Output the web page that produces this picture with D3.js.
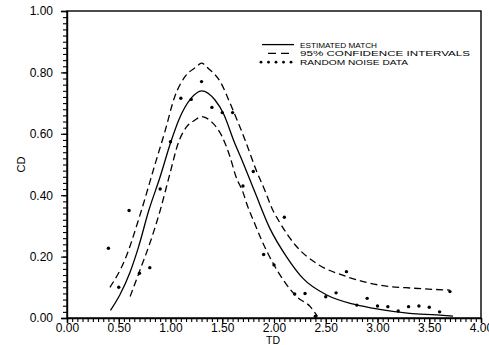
<!DOCTYPE html>
<html>
<head>
<meta charset="utf-8">
<script src="https://cdn.jsdelivr.net/npm/d3@7"></script>
<style>
  html, body { margin: 0; padding: 0; background: #fff; }
  svg { display: block; font-family: "Liberation Sans", Arial, sans-serif; }
</style>
</head>
<body>
<svg id="chart" width="489" height="345"></svg>
<script>
// ---- data ----
const xTicks = [0, 0.5, 1, 1.5, 2, 2.5, 3, 3.5, 4];
const yTicks = [0, 0.2, 0.4, 0.6, 0.8, 1.0];

const matchX = [0.42, 0.51, 0.61, 0.69, 0.79, 0.90, 1.00, 1.08, 1.20, 1.30, 1.43, 1.51, 1.62, 1.69, 1.82, 1.96, 2.12, 2.28, 2.51, 2.77, 3.02, 3.31, 3.57, 3.73];
const matchY = [0.025, 0.075, 0.15, 0.23, 0.35, 0.46, 0.57, 0.645, 0.716, 0.740, 0.71, 0.667, 0.57, 0.515, 0.406, 0.292, 0.20, 0.129, 0.075, 0.045, 0.028, 0.015, 0.010, 0.006];

const upperX = [0.415, 0.56, 0.705, 0.85, 0.95, 1.04, 1.14, 1.25, 1.30, 1.365, 1.48, 1.59, 1.72, 1.83, 1.91, 1.99, 2.04, 2.22, 2.41, 2.70, 3.02, 3.35, 3.70];
const upperY = [0.10, 0.19, 0.335, 0.50, 0.612, 0.72, 0.786, 0.818, 0.83, 0.813, 0.77, 0.688, 0.58, 0.48, 0.417, 0.35, 0.32, 0.232, 0.178, 0.135, 0.107, 0.097, 0.091];

const lowerX = [0.61, 0.705, 0.80, 0.90, 0.995, 1.075, 1.157, 1.237, 1.30, 1.40, 1.50, 1.575, 1.633, 1.70, 1.744, 1.807, 1.884, 1.99, 2.09, 2.22, 2.35, 2.42];
const lowerY = [0.07, 0.156, 0.243, 0.35, 0.471, 0.57, 0.623, 0.645, 0.656, 0.638, 0.59, 0.525, 0.46, 0.41, 0.365, 0.313, 0.251, 0.179, 0.124, 0.069, 0.037, 0.005];

const noiseX = [0.4, 0.5, 0.6, 0.7, 0.8, 0.9, 1.0, 1.1, 1.2, 1.3, 1.4, 1.5, 1.6, 1.7, 1.8, 1.9, 2.0, 2.1, 2.2, 2.3, 2.4, 2.5, 2.6, 2.7, 2.8, 2.9, 3.0, 3.1, 3.2, 3.3, 3.4, 3.5, 3.6, 3.7];
const noiseY = [0.227, 0.10, 0.35, 0.146, 0.164, 0.42, 0.574, 0.716, 0.712, 0.77, 0.686, 0.669, 0.669, 0.43, 0.477, 0.207, 0.173, 0.328, 0.078, 0.080, 0.006, 0.069, 0.082, 0.151, 0.042, 0.064, 0.039, 0.037, 0.023, 0.037, 0.039, 0.035, 0.020, 0.086];

const legendLabels = ["ESTIMATED MATCH", "95% CONFIDENCE INTERVALS", "RANDOM NOISE DATA"];
const xTitle = "TD";
const yTitle = "CD";

// ---- layout ----
const L = 67, R = 481, T = 11, B = 318;
const svg = d3.select("#chart");
const x = d3.scaleLinear().domain([0, 4]).range([L, R]);
const y = d3.scaleLinear().domain([0, 1]).range([B, T]);

const zip = (xs, ys) => xs.map((v, i) => [v, ys[i]]);
const line = d3.line().x(d => x(d[0])).y(d => y(d[1])).curve(d3.curveMonotoneX);

// frame
svg.append("rect").attr("x", L).attr("y", T).attr("width", R - L).attr("height", B - T)
  .attr("fill", "none").attr("stroke", "#000").attr("stroke-width", 1.4);

// minor ticks
const xMinor = d3.range(0, 4.0001, 0.05);
const yMinor = d3.range(0, 1.0001, 0.02);
svg.append("g").attr("transform", `translate(0,${B})`)
  .call(d3.axisBottom(x).tickValues(xMinor).tickSize(4).tickFormat(""))
  .call(g => g.select(".domain").remove())
  .call(g => g.selectAll("line").attr("stroke-width", 1.1));
svg.append("g").attr("transform", `translate(${L},0)`)
  .call(d3.axisLeft(y).tickValues(yMinor).tickSize(4).tickFormat(""))
  .call(g => g.select(".domain").remove())
  .call(g => g.selectAll("line").attr("stroke-width", 1.1));

// major axes
svg.append("g").attr("transform", `translate(0,${B})`)
  .call(d3.axisBottom(x).tickValues(xTicks).tickSize(5).tickPadding(0).tickFormat(d3.format(".2f")))
  .call(g => g.select(".domain").attr("stroke-width", 1.4))
  .call(g => g.selectAll("line").attr("stroke-width", 1.2))
  .call(g => g.selectAll("text").attr("font-size", 12).attr("font-family", "Liberation Sans, Arial, sans-serif").attr("fill", "#000"));
svg.append("g").attr("transform", `translate(${L},0)`)
  .call(d3.axisLeft(y).tickValues(yTicks).tickSize(6).tickPadding(8).tickFormat(d3.format(".2f")))
  .call(g => g.select(".domain").attr("stroke-width", 1.4))
  .call(g => g.selectAll("line").attr("stroke-width", 1.2))
  .call(g => g.selectAll("text").attr("font-size", 12).attr("font-family", "Liberation Sans, Arial, sans-serif").attr("fill", "#000"));

// axis titles
svg.append("text").attr("x", (L + R) / 2 - 1).attr("y", 344).attr("text-anchor", "middle")
  .attr("font-size", 10.5).text(xTitle);
svg.append("text").attr("transform", `translate(25,${(T + B) / 2}) rotate(-90)`)
  .attr("text-anchor", "middle").attr("font-size", 11).text(yTitle);

// curves
svg.append("path").attr("d", line(zip(upperX, upperY))).attr("fill", "none")
  .attr("stroke", "#000").attr("stroke-width", 1.3).attr("stroke-dasharray", "7,4");
svg.append("path").attr("d", line(zip(lowerX, lowerY))).attr("fill", "none")
  .attr("stroke", "#000").attr("stroke-width", 1.3).attr("stroke-dasharray", "7,4");
svg.append("path").attr("d", line(zip(matchX, matchY))).attr("fill", "none")
  .attr("stroke", "#000").attr("stroke-width", 1.3);

// noise points
svg.append("g").selectAll("circle").data(zip(noiseX, noiseY)).join("circle")
  .attr("cx", d => x(d[0])).attr("cy", d => y(d[1])).attr("r", 1.7).attr("fill", "#000");

// legend
const lg = svg.append("g");
const rowsY = [44.6, 53.4, 62.2];
const textLens = [77, 170, 108];
lg.append("line").attr("x1", 262).attr("x2", 294).attr("y1", rowsY[0]).attr("y2", rowsY[0])
  .attr("stroke", "#000").attr("stroke-width", 1.3);
lg.append("line").attr("x1", 268).attr("x2", 294).attr("y1", rowsY[1]).attr("y2", rowsY[1])
  .attr("stroke", "#000").attr("stroke-width", 1.3).attr("stroke-dasharray", "8,5");
lg.selectAll("circle").data(d3.range(5)).join("circle")
  .attr("cx", i => 261 + i * 7.5).attr("cy", rowsY[2]).attr("r", 1.4).attr("fill", "#000");
lg.selectAll("text").data(legendLabels).join("text")
  .attr("x", 300).attr("y", (d, i) => rowsY[i] + 3)
  .attr("font-size", 7.6).attr("textLength", (d, i) => textLens[i])
  .attr("lengthAdjust", "spacingAndGlyphs").text(d => d);
</script>
</body>
</html>
